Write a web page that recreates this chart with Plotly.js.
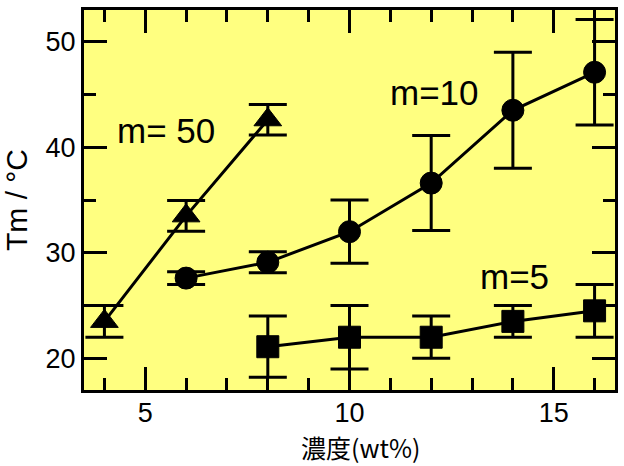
<!DOCTYPE html>
<html>
<head>
<meta charset="utf-8">
<script src="https://cdn.plot.ly/plotly-3.0.1.min.js"></script>
<style>html,body{margin:0;padding:0;background:#fff;}#chart{width:624px;height:466px;}</style>
</head>
<body>
<div id="chart"></div>
<script>
// m = 50 series (triangles)
const m50_x = [4, 6, 8];
const m50_y = [23.5, 33.5, 42.6];
const m50_err = [1.5, 1.45, 1.45];

// m = 10 series (circles)
const m10_x = [6, 8, 10, 12, 14, 16];
const m10_y = [27.6, 29.1, 32.0, 36.6, 43.5, 47.1];
const m10_err = [0.6, 1.0, 3.0, 4.5, 5.5, 5.0];

// m = 5 series (squares)
const m5_x = [8, 10, 12, 14, 16];
const m5_y = [21.1, 22.0, 22.0, 23.5, 24.5];
const m5_err = [2.9, 3.0, 2.0, 1.5, 2.5];

// labels
const seriesLabels = ['m= 50', 'm=10', 'm=5'];
const labelX = [5.5, 12.07, 14.05];
const labelY = [41.6, 45.2, 27.8];
const xTitle = '濃度(wt%)';
const yTitle = 'Tm / °C';

const BLACK = '#000000';
function series(x, y, err, symbol, size, name) {
  return {
    x: x, y: y, name: name, type: 'scatter', mode: 'lines+markers',
    line: {color: BLACK, width: 3},
    marker: {symbol: symbol, size: size, color: BLACK, line: {color: BLACK, width: 1}},
    error_y: {type: 'data', array: err, visible: true, color: BLACK, thickness: 3, width: 19},
    cliponaxis: false
  };
}

const data = [
  series(m50_x, m50_y, m50_err, 'triangle-up', 24, seriesLabels[0]),
  series(m10_x, m10_y, m10_err, 'circle', 22, seriesLabels[1]),
  series(m5_x, m5_y, m5_err, 'square', 22, seriesLabels[2])
];

const SANS = 'Liberation Sans, Arial, sans-serif';
const tickFont = {family: SANS, size: 27, color: BLACK};

const annotations = seriesLabels.map((t, i) => ({
  text: t, x: labelX[i], y: labelY[i], xref: 'x', yref: 'y',
  showarrow: false, xanchor: 'center', yanchor: 'middle',
  font: {family: SANS, size: 35, color: BLACK}
}));
// x-axis title placed as paper annotation below the tick labels
annotations.push({
  text: xTitle, xref: 'paper', yref: 'paper', x: 0.52, y: 0,
  xanchor: 'center', yanchor: 'middle', yshift: -57, showarrow: false, borderpad: 0,
  font: {family: 'Noto Sans CJK JP', size: 25, color: BLACK}
});

const layout = {
  width: 624, height: 466,
  margin: {l: 84, r: 9, t: 10, b: 76},
  paper_bgcolor: '#ffffff',
  plot_bgcolor: '#ffff80',
  showlegend: false,
  xaxis: {
    range: [3.5, 16.5], tick0: 0, dtick: 5,
    ticks: 'inside', ticklen: 23, tickwidth: 3, tickcolor: BLACK,
    minor: {dtick: 1, ticks: 'inside', ticklen: 12, tickwidth: 3, tickcolor: BLACK, showgrid: false},
    showline: true, linewidth: 3, linecolor: BLACK, mirror: 'allticks',
    showgrid: false, zeroline: false,
    ticklabelstandoff: -3,
    tickfont: tickFont
  },
  yaxis: {
    range: [17, 53], tick0: 0, dtick: 10,
    ticks: 'inside', ticklen: 23, tickwidth: 3, tickcolor: BLACK,
    minor: {dtick: 5, ticks: 'inside', ticklen: 12, tickwidth: 3, tickcolor: BLACK, showgrid: false},
    showline: true, linewidth: 3, linecolor: BLACK, mirror: 'allticks',
    showgrid: false, zeroline: false,
    tickfont: tickFont,
    title: {text: yTitle, font: {family: SANS, size: 30, color: BLACK}}
  },
  annotations: annotations
};

Plotly.newPlot('chart', data, layout, {displayModeBar: false, staticPlot: true});
</script>
</body>
</html>
